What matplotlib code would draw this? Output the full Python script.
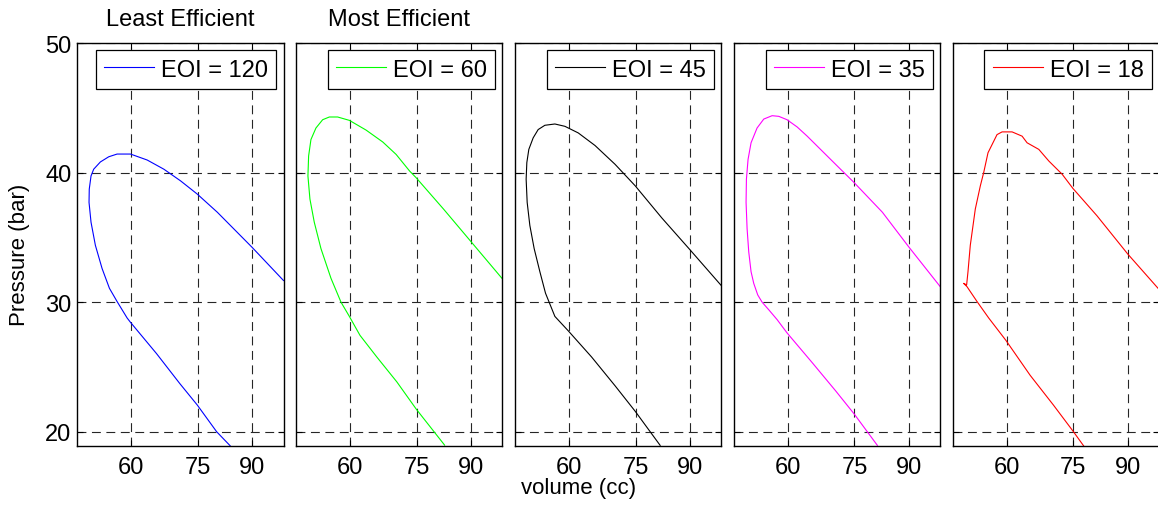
import numpy as np
import matplotlib
matplotlib.use('Agg')
import matplotlib.pyplot as plt
from matplotlib.ticker import FixedLocator, FixedFormatter, NullLocator

plt.rcParams['font.family'] = ['Liberation Sans', 'DejaVu Sans']
plt.rcParams['font.size'] = 17

# Traced P-V loops (volume in cc, pressure in bar), one per EOI setting
vol_120 = [83.6, 79.9, 74.9, 70.6, 65.3, 59.8, 59.16, 57.2, 55.75, 54.39, 53.18, 52.41, 52.06,
           52.1, 52.41, 52.88, 54.08, 55.62, 57.2, 59.83, 63.28, 66.93, 70.79, 74.87, 80.08,
           90.0, 100.0]
p_120 = [18.92, 20.0, 22.05, 23.72, 26.03, 28.46, 28.78, 30.05, 31.07, 32.6, 34.39, 36.17, 37.7,
         38.72, 39.74, 40.26, 40.82, 41.22, 41.43, 41.43, 40.97, 40.26, 39.36, 38.34, 36.94,
         34.23, 31.67]

vol_60 = [82.36, 74.9, 70.16, 65.6, 62.0, 59.83, 58.17, 56.25, 54.39, 53.18, 52.41, 52.06, 52.18,
          52.59, 53.48, 54.7, 55.94, 57.52, 59.83, 63.28, 66.93, 70.0, 73.21, 74.87, 82.08,
          90.0, 100.0]
p_60 = [18.97, 21.74, 23.85, 25.77, 27.44, 28.9, 30.0, 31.84, 34.13, 36.17, 37.96, 39.74, 41.28,
        42.55, 43.44, 44.08, 44.29, 44.29, 44.03, 43.28, 42.36, 41.4, 40.13, 39.6, 37.18,
        34.67, 31.8]

vol_45 = [81.44, 74.9, 70.0, 64.7, 59.8, 57.2, 55.43, 54.39, 53.36, 52.59, 52.12, 51.94, 52.06,
          52.41, 53.18, 54.08, 55.31, 57.2, 59.16, 61.87, 65.45, 70.0, 74.9, 81.9, 90.0, 100.0]
p_45 = [18.95, 21.58, 23.55, 25.77, 27.8, 28.9, 30.69, 32.35, 34.13, 35.92, 37.7, 39.49, 40.77,
        41.79, 42.68, 43.32, 43.65, 43.75, 43.57, 43.06, 42.09, 40.64, 38.98, 36.5, 34.05, 31.28]

vol_35 = [80.98, 74.9, 70.39, 65.08, 59.8, 57.85, 56.25, 55.0, 54.2, 53.48, 53.0, 52.59, 52.3,
          52.12, 52.18, 52.47, 53.0, 54.08, 55.31, 56.88, 58.17, 59.8, 61.87, 63.99, 67.3,
          71.19, 74.9, 82.36, 90.0, 100.0]
p_35 = [18.95, 21.38, 23.16, 25.33, 27.63, 28.65, 29.41, 30.0, 30.56, 31.45, 32.35, 33.88, 35.66,
        37.7, 39.49, 41.02, 42.3, 43.44, 44.13, 44.39, 44.34, 44.08, 43.52, 42.81, 41.66,
        40.38, 39.23, 36.94, 34.26, 31.2]

vol_18 = [77.6, 74.9, 70.16, 64.86, 59.8, 56.44, 54.27, 52.47, 51.89, 52.41, 52.65, 53.06, 53.96,
          54.88, 55.5, 56.31, 58.04, 59.03, 61.05, 63.14, 64.2, 66.78, 69.07, 72.23, 74.9,
          81.17, 90.0, 99.8]
p_18 = [18.92, 20.05, 22.05, 24.36, 27.05, 28.78, 30.05, 31.2, 31.45, 31.33, 32.35, 34.39, 37.19,
        38.98, 40.0, 41.53, 42.93, 43.14, 43.14, 42.81, 42.3, 41.79, 40.89, 39.87, 38.77,
        36.67, 33.72, 31.03]

labels = ['EOI = 120', 'EOI = 60', 'EOI = 45', 'EOI = 35', 'EOI = 18']
colors = ['#0000ff', '#00ff00', '#000000', '#ff00ff', '#ff0000']
titles = ['Least Efficient', 'Most Efficient', '', '', '']
x_ticks = [60, 75, 90]
y_ticks = [20, 30, 40, 50]

volumes = [vol_120, vol_60, vol_45, vol_35, vol_18]
pressures = [p_120, p_60, p_45, p_35, p_18]

fig = plt.figure(figsize=(11.58, 5.06), dpi=100)

W, H = 1158.0, 506.0
left0, step, width = 77 / W, 218.9 / W, 206.5 / W
bottom, height = (H - 447) / H, (447 - 44) / H

for i in range(5):
    ax = fig.add_axes([left0 + i * step, bottom, width, height])
    ax.plot(volumes[i], pressures[i], color=colors[i], lw=0.8, label=labels[i])
    ax.set_xscale('log')
    ax.set_xlim(50, 100)
    ax.set_ylim(18.9, 50)
    ax.xaxis.set_major_locator(FixedLocator(x_ticks))
    ax.xaxis.set_major_formatter(FixedFormatter([str(t) for t in x_ticks]))
    ax.xaxis.set_minor_locator(NullLocator())
    ax.set_yticks(y_ticks)
    if i > 0:
        ax.set_yticklabels([])
    ax.tick_params(direction='in', length=4, width=0.8, top=True, right=True, labelsize=17)
    ax.tick_params(axis='x', pad=7)
    ax.tick_params(axis='y', pad=4)
    ax.grid(True, color='0.15', linestyle=(0, (8, 5)), lw=0.8)
    for s in ax.spines.values():
        s.set_linewidth(1.0)
    if titles[i]:
        ax.set_title(titles[i], fontsize=17, pad=13)
    leg = ax.legend(loc='upper right', fancybox=False, edgecolor='black', framealpha=1,
                    handlelength=2.1, handletextpad=0.3, borderpad=0.36,
                    borderaxespad=0.3, fontsize=17)
    leg.get_frame().set_linewidth(0.9)

fig.text(0.5, 1 - 489 / H, 'volume (cc)', ha='center', va='center', fontsize=16)
fig.text(20 / W, 0.5 - 2 / H, 'Pressure (bar)', ha='center', va='center', rotation=90, fontsize=16)

plt.savefig('out.png', dpi=100)
